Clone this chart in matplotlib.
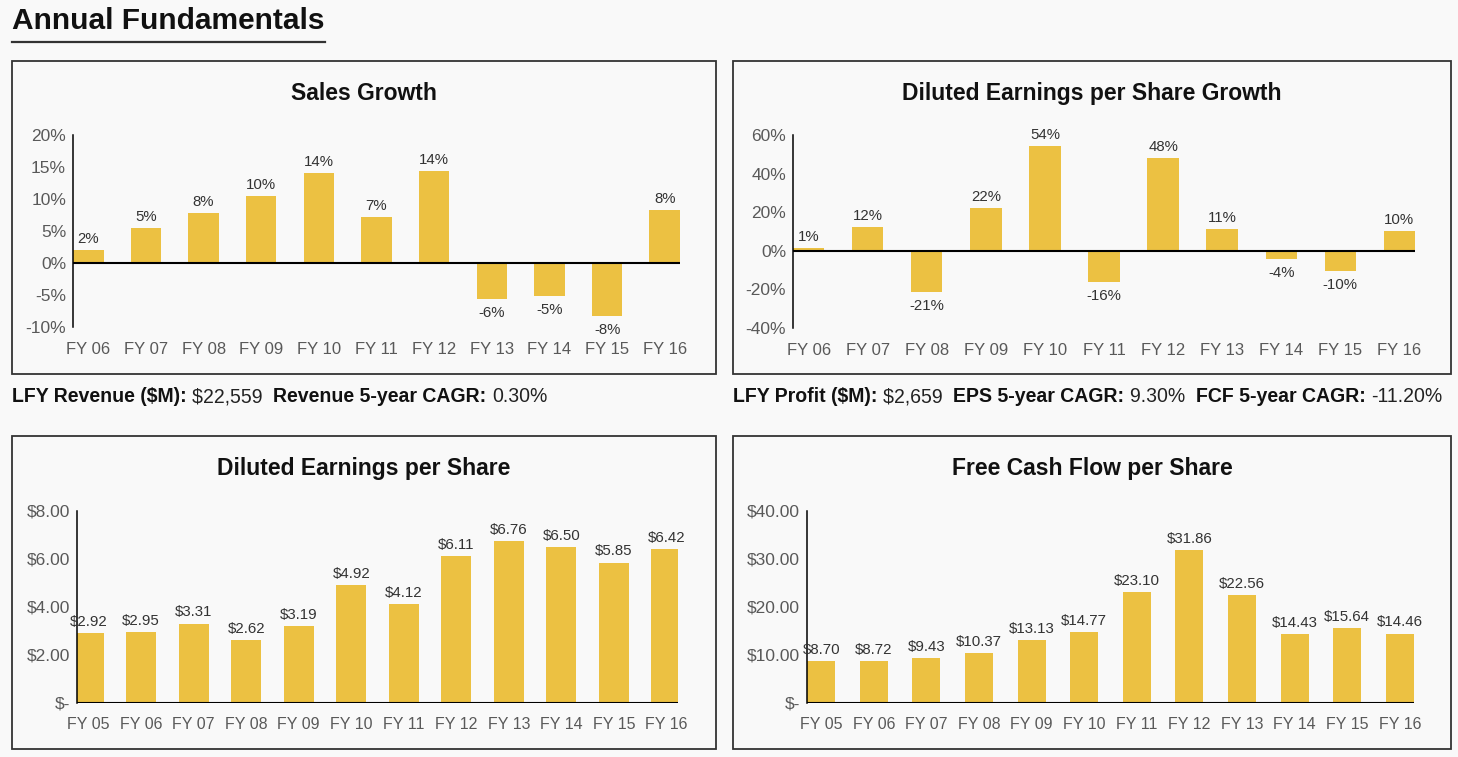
import matplotlib
matplotlib.use('Agg')
import matplotlib.pyplot as plt
from matplotlib.patches import Rectangle
from matplotlib.lines import Line2D
from matplotlib import font_manager

W, H = 1458, 757
BG = '#F9F9F9'
GOLD = '#ECC142'
TICK = '#595959'
LABEL = '#333333'

# ---------------- data ----------------
growth_years = ['FY 06', 'FY 07', 'FY 08', 'FY 09', 'FY 10', 'FY 11',
                'FY 12', 'FY 13', 'FY 14', 'FY 15', 'FY 16']
sales_growth = [2.0, 5.4, 7.8, 10.4, 14.0, 7.2, 14.4, -5.7, -5.2, -8.3, 8.3]
eps_growth = [1.4, 12.4, -21.4, 22.3, 54.2, -16.4, 48.2, 11.4, -4.4, -10.4, 10.4]

level_years = ['FY 05', 'FY 06', 'FY 07', 'FY 08', 'FY 09', 'FY 10', 'FY 11',
               'FY 12', 'FY 13', 'FY 14', 'FY 15', 'FY 16']
diluted_eps = [2.92, 2.95, 3.31, 2.62, 3.19, 4.92, 4.12, 6.11, 6.76, 6.50, 5.85, 6.42]
fcf_per_share = [8.70, 8.72, 9.43, 10.37, 13.13, 14.77, 23.10, 31.86, 22.56,
                 14.43, 15.64, 14.46]

sales_ticks = [-10, -5, 0, 5, 10, 15, 20]
eps_growth_ticks = [-40, -20, 0, 20, 40, 60]
eps_ticks = [0, 2, 4, 6, 8]
fcf_ticks = [0, 10, 20, 30, 40]

left_info = [('LFY Revenue ($M): ', True), ('$22,559  ', False),
             ('Revenue 5-year CAGR: ', True), ('0.30%', False)]
right_info = [('LFY Profit ($M): ', True), ('$2,659  ', False),
              ('EPS 5-year CAGR: ', True), ('9.30%  ', False),
              ('FCF 5-year CAGR: ', True), ('-11.20%', False)]

# ---------------- fonts ----------------
avail = {f.name for f in font_manager.fontManager.ttflist}
BASE = 'Liberation Sans' if 'Liberation Sans' in avail else 'DejaVu Sans'
NARROW = 'Liberation Sans Narrow' if 'Liberation Sans Narrow' in avail else BASE
plt.rcParams['font.family'] = [BASE, 'DejaVu Sans']

fig = plt.figure(figsize=(W / 100, H / 100), dpi=100, facecolor=BG)


def fx(x):
    return x / W


def fy(y):
    return 1 - y / H


# title + underline
fig.text(fx(12), fy(29), 'Annual Fundamentals', fontsize=21.5, fontweight='bold',
         color='#111111', ha='left', va='baseline')
fig.add_artist(Line2D([fx(12), fx(325)], [fy(41.5), fy(41.5)], color='#333333', lw=1.6))

# panel boxes
panels = [(12, 61, 716, 374), (733, 61, 1451, 374), (12, 436, 716, 749), (733, 436, 1451, 749)]
for (x0, y0, x1, y1) in panels:
    fig.add_artist(Rectangle((fx(x0), fy(y1)), fx(x1) - fx(x0), fy(y0) - fy(y1),
                             transform=fig.transFigure, fill=False,
                             edgecolor='#333333', lw=1.3))

titles = ['Sales Growth', 'Diluted Earnings per Share Growth',
          'Diluted Earnings per Share', 'Free Cash Flow per Share']
for (x0, y0, x1, y1), t in zip(panels, titles):
    fig.text(fx((x0 + x1) / 2), fy(y0 + 32.5), t, fontsize=16.5, fontweight='bold',
             color='#111111', ha='center', va='center')


def make_axes(x0, x1, ytop, ybot):
    ax = fig.add_axes([fx(x0), fy(ybot), fx(x1) - fx(x0), fy(ytop) - fy(ybot)])
    ax.set_facecolor('none')
    for s in ['top', 'right', 'bottom']:
        ax.spines[s].set_visible(False)
    ax.spines['left'].set_linewidth(1.1)
    ax.spines['left'].set_color('black')
    ax.tick_params(length=0)
    return ax


def bar_panel(ax, cats, vals, width, xlim, ylim, yticks, ytickfmt, labfmt, xfs, xpad):
    xs = list(range(len(cats)))
    ax.bar(xs, vals, width=width, color=GOLD, zorder=2)
    ax.axhline(0, color='black', lw=1.5, zorder=3)
    ax.set_xlim(*xlim)
    ax.set_ylim(*ylim)
    ax.set_xticks(xs)
    ax.set_xticklabels(cats, fontsize=xfs, color=TICK)
    ax.set_yticks(yticks)
    ax.set_yticklabels([ytickfmt(v) for v in yticks], fontsize=12.5, color=TICK)
    ax.tick_params(axis='y', pad=5)
    ax.tick_params(axis='x', pad=xpad)
    for x, v in zip(xs, vals):
        if v >= 0:
            ax.annotate(labfmt(v), (x, v), xytext=(0, 3), textcoords='offset points',
                        ha='center', va='bottom', fontsize=10.8, color=LABEL, zorder=4)
        else:
            ax.annotate(labfmt(v), (x, v), xytext=(0, -5), textcoords='offset points',
                        ha='center', va='top', fontsize=10.8, color=LABEL, zorder=4)


def pct(v):
    return f'{v:.0f}%'


def dollars_tick(v):
    return '$-' if v == 0 else f'${v:.2f}'


def dollars(v):
    return f'${v:.2f}'


ax1 = make_axes(73, 680, 135, 327)
bar_panel(ax1, growth_years, sales_growth, 0.53, (-0.265, 10.265), (-10, 20),
          sales_ticks, pct, pct, 12, 10.5)

ax2 = make_axes(793, 1415, 135, 328)
bar_panel(ax2, growth_years, eps_growth, 0.53, (-0.265, 10.265), (-40, 60),
          eps_growth_ticks, pct, pct, 12, 10.5)

ax3 = make_axes(77, 678, 511, 703)
bar_panel(ax3, level_years, diluted_eps, 0.57, (-0.22, 11.22), (0, 8),
          eps_ticks, dollars_tick, dollars, 11.5, 10)

ax4 = make_axes(807, 1414, 511, 703)
bar_panel(ax4, level_years, fcf_per_share, 0.53, (-0.27, 11.27), (0, 40),
          fcf_ticks, dollars_tick, dollars, 11.5, 10)

# info lines
renderer = fig.canvas.get_renderer()


def info_line(x_start, y_center, segments, target_width):
    size = 13.5
    for _ in range(3):
        x = x_start
        arts = []
        for txt, bold in segments:
            t = fig.text(fx(x), fy(y_center), txt, fontsize=size,
                         fontweight='bold' if bold else 'normal',
                         family=[NARROW, BASE], color='#111111' if bold else '#222222',
                         ha='left', va='center')
            bb = t.get_window_extent(renderer=renderer)
            x += bb.width
            arts.append(t)
        total = x - x_start
        if abs(total - target_width) < 3:
            return
        for a in arts:
            a.remove()
        size *= target_width / total
    x = x_start
    for txt, bold in segments:
        t = fig.text(fx(x), fy(y_center), txt, fontsize=size,
                     fontweight='bold' if bold else 'normal',
                     family=[NARROW, BASE], color='#111111' if bold else '#222222',
                     ha='left', va='center')
        x += t.get_window_extent(renderer=renderer).width


info_line(12, 397, left_info, 536)
info_line(733, 397, right_info, 710)

fig.savefig('out.png', dpi=100, facecolor=BG)
